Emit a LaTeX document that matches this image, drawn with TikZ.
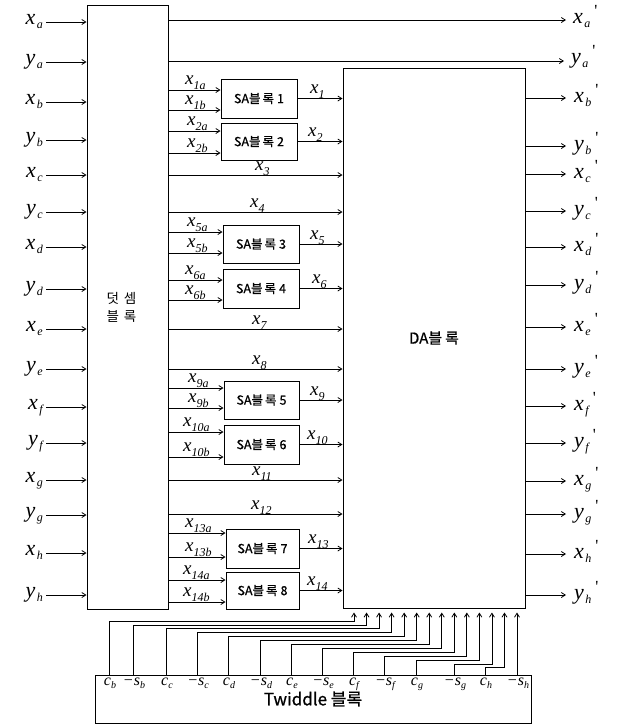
\documentclass[tikz,border=0pt]{standalone}
\usepackage{fontspec}
\setmainfont{Liberation Serif}
\newfontfamily\kr{Noto Sans CJK KR}
\newfontfamily\krb[FakeBold=0.8]{Noto Sans CJK KR}
\usetikzlibrary{arrows.meta}
\newcommand\lblO[2]{{\fontsize{22}{22}\selectfont\itshape #1}\hspace{1.5pt}\raisebox{-4pt}{\fontsize{12}{12}\selectfont\itshape #2}}
\newcommand\lblP[2]{\lblO{#1}{#2}\hspace{4pt}\raisebox{7pt}{\fontsize{17}{17}\selectfont\textquotesingle}}
\newcommand\lblI[2]{{\fontsize{19}{19}\selectfont\itshape #1}\raisebox{-5pt}{\fontsize{12}{12}\selectfont\itshape #2}}
\newcommand\lblT[2]{{\fontsize{16}{16}\selectfont\itshape #1}\raisebox{-3pt}{\fontsize{10}{10}\selectfont\itshape #2}}
\tikzset{
  blk/.style={draw, line width=1pt, inner sep=0pt, fill=white},
  sab/.style={blk, font=\krb\fontsize{12.5}{12.5}\selectfont},
  arr/.style={line width=0.8pt, -{Straight Barb[length=4pt,width=5pt]}},
  lab/.style={inner sep=0pt}
}
\begin{document}
\begin{tikzpicture}[x=1pt,y=-1pt]
\useasboundingbox (0,0) rectangle (617,724);
% main blocks
\node[blk, minimum width=81pt, minimum height=604pt, align=center,
      font=\kr\fontsize{13.5}{18}\selectfont] (ADD) at (127.5,307) {덧\kern5pt 셈\hspace*{12pt}\\블\kern5pt 록\hspace*{12pt}};
\node[blk, minimum width=182pt, minimum height=540pt,
      font=\krb\fontsize{15}{15}\selectfont] (DA) at (434,338) {DA블\kern3pt 록};
\node[blk, minimum width=436pt, minimum height=48pt,
      font=\krb\fontsize{17}{17}\selectfont] (TW) at (313,699) {Twiddle 블록};
% SA blocks
\node[sab, minimum width=76pt, minimum height=39pt] (SA1) at (259,98.5) {SA블\kern2pt 록\kern3pt 1};
\node[sab, minimum width=76pt, minimum height=37pt] (SA2) at (259,141.5) {SA블\kern2pt 록\kern3pt 2};
\node[sab, minimum width=76pt, minimum height=38pt] (SA3) at (261,244) {SA블\kern2pt 록\kern3pt 3};
\node[sab, minimum width=76pt, minimum height=39pt] (SA4) at (261,288.5) {SA블\kern2pt 록\kern3pt 4};
\node[sab, minimum width=75pt, minimum height=38pt] (SA5) at (261.5,400) {SA블\kern2pt 록\kern3pt 5};
\node[sab, minimum width=75pt, minimum height=39pt] (SA6) at (261.5,444.5) {SA블\kern2pt 록\kern3pt 6};
\node[sab, minimum width=73pt, minimum height=39pt] (SA7) at (262.5,548.5) {SA블\kern2pt 록\kern3pt 7};
\node[sab, minimum width=73pt, minimum height=37pt] (SA8) at (262.5,590.5) {SA블\kern2pt 록\kern3pt 8};
% left inputs
\foreach \n/\v/\s/\y in {xa/x/a/22, ya/y/a/62, xb/x/b/102, yb/y/b/140, xc/x/c/175, yc/y/c/212,
    xd/x/d/247, yd/y/d/289, xe/x/e/329, ye/y/e/369, xf/x/f/407, yf/y/f/443,
    xg/x/g/480, yg/y/g/515, xh/x/h/553, yh/y/h/595} {
  \node[lab, anchor=base east] (L\n) at (43,\y+2) {\lblO{\v}{\s}};
  \coordinate (S\n) at (46,\y);
  \draw[arr] (S\n) -- (ADD.west |- S\n);
}
% top pass-through outputs
\coordinate (Exa) at (566,20);
\coordinate (Eya) at (564,61);
\draw[arr] (ADD.east |- Exa) -- (Exa);
\draw[arr] (ADD.east |- Eya) -- (Eya);
\node[lab, anchor=base west] (Rxa) at (573,23) {\lblP{x}{a}};
\node[lab, anchor=base west] (Rya) at (571,63) {\lblP{y}{a}};
% right outputs
\foreach \n/\v/\s/\y in {xb/x/b/98, yb/y/b/146, xc/x/c/174, yc/y/c/211, xd/x/d/247, yd/y/d/285,
    xe/x/e/327, ye/y/e/369, xf/x/f/406, yf/y/f/443, xg/x/g/481, yg/y/g/514, xh/x/h/554, yh/y/h/595} {
  \coordinate (E\n) at (566,\y);
  \draw[arr] (DA.east |- E\n) -- (E\n);
  \node[lab, anchor=base west] (R\n) at (574,\y+4) {\lblP{\v}{\s}};
}
% SA inputs
\foreach \b/\i/\ya/\yb/\lx in {SA1/1/90/110/185, SA2/2/131/153/187, SA3/5/232/253/187, SA4/6/280/300/185,
    SA5/9/388/408/188, SA6/10/432/457/183, SA7/13/533/557/185, SA8/14/580/602/183} {
  \draw[arr] (ADD.east |- 0,\ya) -- (\b.west |- 0,\ya);
  \draw[arr] (ADD.east |- 0,\yb) -- (\b.west |- 0,\yb);
  \node[lab, anchor=base west] (I\i a) at (\lx,\ya-6) {\lblI{x}{\i a}};
  \node[lab, anchor=base west] (I\i b) at (\lx,\yb-6) {\lblI{x}{\i b}};
}
% SA outputs
\foreach \b/\i/\lx in {SA1/1/310, SA2/2/308, SA3/5/310, SA4/6/312, SA5/9/310, SA6/10/307, SA7/13/308, SA8/14/307} {
  \draw[arr] (\b.east) -- (DA.west |- \b.east);
  \path (\b.east) ++(0,-5) coordinate (q\i);
  \node[lab, anchor=base west] (O\i) at (\lx, 0 |- q\i) {\lblI{x}{\i}};
}
% straight lines
\foreach \i/\y/\lx in {3/175/255, 4/212/250, 7/329/252, 8/369/252, 11/480/252, 12/514/251} {
  \draw[arr] (ADD.east |- 0,\y) -- (DA.west |- 0,\y);
  \node[lab, anchor=base west] (M\i) at (\lx,\y-5) {\lblI{x}{\i}};
}
% twiddle connections
\foreach \k/\v/\s/\xl in {0/c/b/109, 1/−s/b/133, 2/c/c/166, 3/−s/c/197, 4/c/d/228, 5/−s/d/260,
    6/c/e/291, 7/−s/e/322, 8/c/f/353, 9/−s/f/384, 10/c/g/416, 11/−s/g/454, 12/c/h/485} {
  \pgfmathsetmacro\tx{354+12.54*\k}
  \pgfmathsetmacro\lev{621+3.9*\k}
  \coordinate (T\k) at (\xl, 675);
  \draw[arr, shorten >=4pt] (T\k) |- (\tx,\lev) -- (DA.south -| \tx,0);
  \node[lab, anchor=base] (W\k) at (\xl+1,685) {\lblT{\v}{\s}};
}
\coordinate (T13) at (517,675);
\draw[arr, shorten >=4pt] (T13) -- (DA.south -| T13);
\node[lab, anchor=base] (W13) at (518,685) {\lblT{−s}{h}};
\end{tikzpicture}
\end{document}
